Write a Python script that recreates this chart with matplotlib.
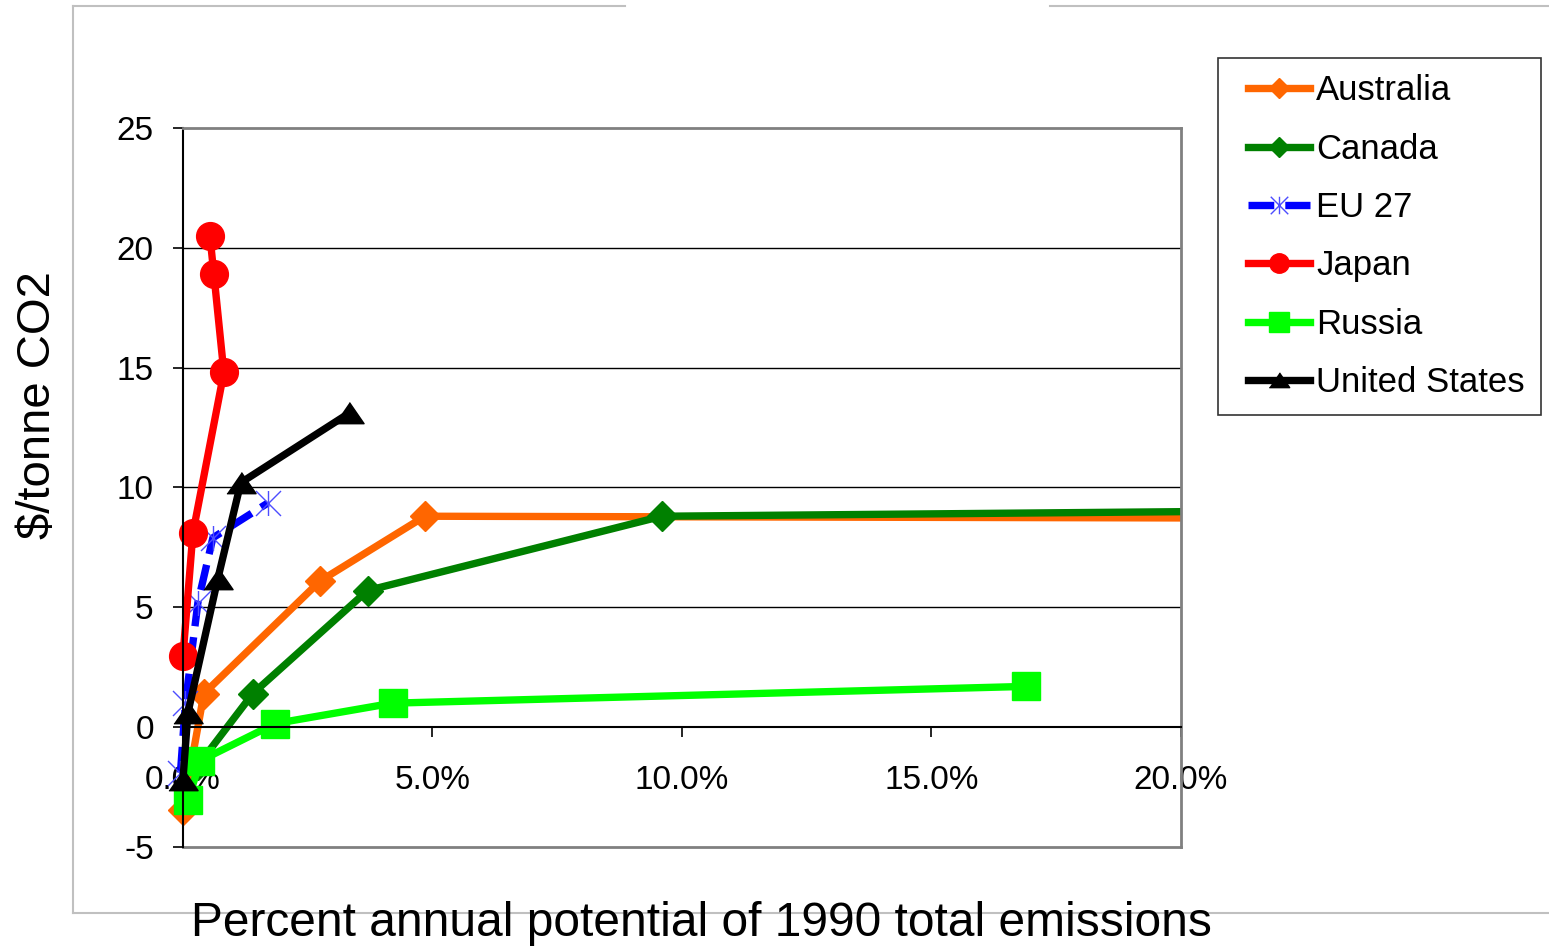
import matplotlib
matplotlib.use('Agg')
import matplotlib.pyplot as plt
from matplotlib.path import Path
from matplotlib.lines import Line2D
from matplotlib.patches import Rectangle
from matplotlib.legend_handler import HandlerLine2D

plt.rcParams['font.family'] = ['Liberation Sans', 'DejaVu Sans']
plt.rcParams['axes.unicode_minus'] = False

# Values (x in percent of 1990 emissions, y in $/tonne CO2)
australia_x = [0.0, 0.42, 2.75, 4.85, 26.0]
australia_y = [-3.45, 1.4, 6.1, 8.8, 8.7]
canada_x = [0.3, 1.4, 3.7, 9.6, 26.0]
canada_y = [-1.6, 1.4, 5.7, 8.8, 9.1]
eu_x = [-0.05, 0.05, 0.3, 0.6, 1.7]
eu_y = [-1.9, 1.0, 5.2, 7.9, 9.35]
japan_x = [0.0, 0.2, 0.82, 0.62, 0.54]
japan_y = [2.95, 8.1, 14.8, 18.9, 20.5]
russia_x = [0.1, 0.35, 1.85, 4.2, 16.9]
russia_y = [-3.05, -1.4, 0.15, 1.0, 1.7]
us_x = [0.0, 0.1, 0.7, 1.16, 3.33]
us_y = [-2.2, 0.6, 6.2, 10.2, 13.1]

x_ticks = [0, 5, 10, 15, 20]
y_ticks = [-5, 0, 5, 10, 15, 20, 25]

# custom markers: excel-like star (x with a vertical bar) and a flat triangle
star = Path([(0, -1), (0, 1), (-1, -1), (1, 1), (-1, 1), (1, -1)],
            [Path.MOVETO, Path.LINETO, Path.MOVETO, Path.LINETO, Path.MOVETO, Path.LINETO])
flat_tri = [(-1, -0.7), (1, -0.7), (0, 0.75)]

fig = plt.figure(figsize=(15.49, 9.46), dpi=100)
ax = fig.add_axes([0.1181, 0.1047, 0.6443, 0.7600])

# gridlines below the data
for yv in y_ticks:
    if yv not in (-5, 0, 25):
        ax.axhline(yv, color='black', lw=1, zorder=1)

# markers are not cut at the left edge, lines are cut at the right edge (20%)
clip_rect = Rectangle((-0.05, -0.1), 1.05, 1.2, transform=ax.transAxes)

lw = 5.3
lines = []
lines += ax.plot(australia_x, australia_y, color='#ff6600', lw=lw, marker='D', ms=15,
                 mec='#ff6600', label='Australia', zorder=2)
lines += ax.plot(canada_x, canada_y, color='#008000', lw=lw, marker='D', ms=15,
                 mec='#008000', label='Canada', zorder=2)
lines += ax.plot(eu_x, eu_y, color='#0000ff', lw=lw, ls=(0, (3.5, 1.5)), marker=star, ms=18,
                 mfc='none', mec='#4d4dff', mew=1, label='EU 27', zorder=2)
lines += ax.plot(japan_x, japan_y, color='#ff0000', lw=lw, marker='o', ms=20,
                 mec='#ff0000', label='Japan', zorder=2)
lines += ax.plot(russia_x, russia_y, color='#00ff00', lw=lw, marker='s', ms=20,
                 mec='#00ff00', label='Russia', zorder=2)
lines += ax.plot(us_x, us_y, color='black', lw=lw, marker=flat_tri, ms=21,
                 mec='black', label='United States', zorder=2)
for ln in lines:
    ln.set_clip_path(clip_rect)

ax.set_xlim(0, 20)
ax.set_ylim(-5, 25)

ax.spines['bottom'].set_position(('data', 0))
ax.spines['bottom'].set_color('black')
ax.spines['bottom'].set_linewidth(1.5)
ax.spines['left'].set_color('black')
ax.spines['left'].set_linewidth(1.5)
for s in ['top', 'right']:
    ax.spines[s].set_color('#808080')
    ax.spines[s].set_linewidth(2)
ax.plot([0, 20], [-5, -5], color='#808080', lw=2, clip_on=False, zorder=1)

ax.set_xticks(x_ticks)
ax.set_xticklabels(['%.1f%%' % t for t in x_ticks])
ax.set_yticks(y_ticks)
ax.tick_params(axis='x', direction='out', length=7, width=1.2, labelsize=24, pad=20)
ax.tick_params(axis='y', direction='out', length=7, width=1.2, labelsize=24, pad=14)

fig.text(0.0245, 0.572, '$/tonne CO2', rotation=90, ha='center', va='center', fontsize=34)
fig.text(0.4526, 0.0105, 'Percent annual potential of 1990 total emissions',
         ha='center', va='baseline', fontsize=34.5)

leg = fig.legend(loc='upper left', bbox_to_anchor=(0.7863, 0.9387), fontsize=25,
                 frameon=True, fancybox=False, edgecolor='black', markerscale=0.7,
                 handlelength=2.19, handletextpad=0.17, labelspacing=0.73,
                 borderpad=0.47, borderaxespad=0,
                 handler_map={Line2D: HandlerLine2D(xpad=0.40)})
leg.get_frame().set_linewidth(1.2)

# outer chart-area border lines
gray = '#c0c0c0'
fig.add_artist(Line2D([0.0471, 0.4035], [0.9937, 0.9937], color=gray, lw=1.5))
fig.add_artist(Line2D([0.6779, 1.0], [0.9937, 0.9937], color=gray, lw=1.5))
fig.add_artist(Line2D([0.0471, 0.0471], [0.0349, 0.9937], color=gray, lw=1.5))
fig.add_artist(Line2D([0.0471, 1.0], [0.0349, 0.0349], color=gray, lw=1.5))

plt.savefig('out.png', dpi=100)
